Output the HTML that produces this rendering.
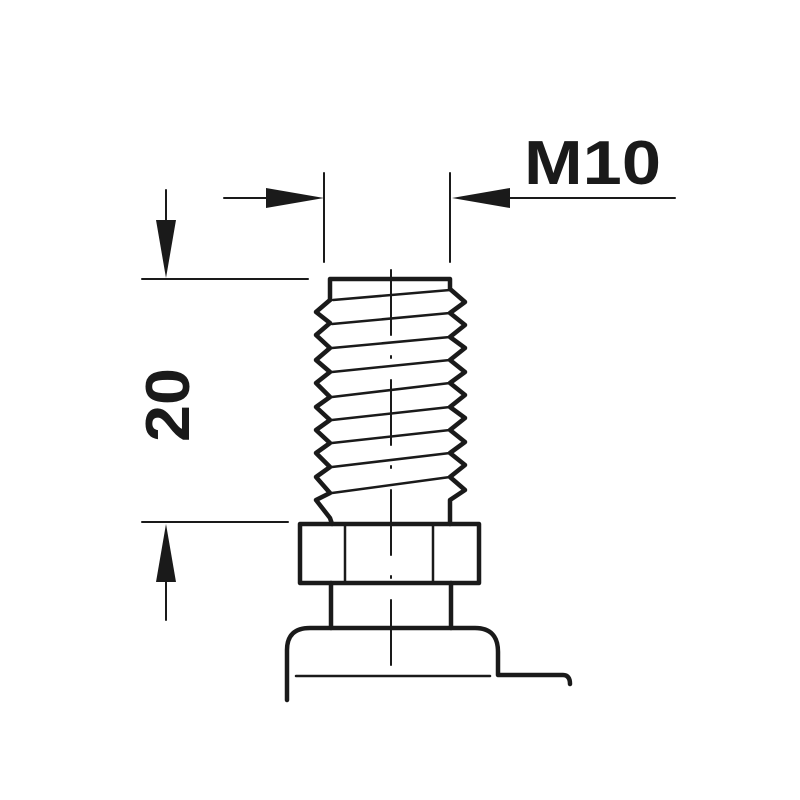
<!DOCTYPE html>
<html><head><style>body{margin:0;background:#fff}svg{display:block}</style></head><body>
<svg width="800" height="800" viewBox="0 0 800 800" xmlns="http://www.w3.org/2000/svg">
<g stroke="#1a1a1a" fill="none" stroke-linecap="round" stroke-linejoin="round">
<line x1="324" y1="173" x2="324" y2="262" stroke-width="2"/>
<line x1="450" y1="173" x2="450" y2="262" stroke-width="2"/>
<line x1="224" y1="198" x2="300" y2="198" stroke-width="2"/>
<line x1="480" y1="198" x2="675" y2="198" stroke-width="2"/>
<line x1="142" y1="279" x2="308" y2="279" stroke-width="2"/>
<line x1="142" y1="522" x2="288" y2="522" stroke-width="2"/>
<line x1="166" y1="190" x2="166" y2="250" stroke-width="2"/>
<line x1="166" y1="555" x2="166" y2="620" stroke-width="2"/>
<line x1="391" y1="270" x2="391" y2="335" stroke-width="2"/>
<line x1="391" y1="356" x2="391" y2="358" stroke-width="2"/>
<line x1="391" y1="380" x2="391" y2="445" stroke-width="2"/>
<line x1="391" y1="466" x2="391" y2="468" stroke-width="2"/>
<line x1="391" y1="490" x2="391" y2="555" stroke-width="2"/>
<line x1="391" y1="576" x2="391" y2="578" stroke-width="2"/>
<line x1="391" y1="600" x2="391" y2="665" stroke-width="2"/>
<path d="M330 300 L330 279 L450 279 L450 289 L465 302 L450 313 L465 325 L450 337 L465 348 L450 360 L465 372 L450 383 L465 395 L450 407 L465 418 L450 430 L465 442 L450 453 L465 465 L450 477 L465 490 L450 500 L450 524" stroke-width="4.5"/>
<path d="M330 300 L316 312 L330 323 L316 335 L330 348 L316 360 L330 372 L316 383 L330 397 L316 407 L330 420 L316 430 L330 443 L316 453 L330 467 L316 477 L330 493 L316 500 L330 518 L332 524" stroke-width="4.5"/>
<g stroke-width="2.5">
<line x1="333" y1="300" x2="450" y2="290"/>
<line x1="332" y1="324" x2="450" y2="313"/>
<line x1="332" y1="348" x2="450" y2="337"/>
<line x1="332" y1="372" x2="450" y2="360"/>
<line x1="332" y1="397" x2="450" y2="383"/>
<line x1="332" y1="420" x2="450" y2="407"/>
<line x1="332" y1="443" x2="450" y2="430"/>
<line x1="332" y1="467" x2="450" y2="453"/>
<line x1="332" y1="493" x2="450" y2="477"/>
</g>
<rect x="300" y="524" width="179" height="59" stroke-width="4.5"/>
<line x1="345" y1="524" x2="345" y2="583" stroke-width="2.5"/>
<line x1="433" y1="524" x2="433" y2="583" stroke-width="2.5"/>
<line x1="331" y1="583" x2="331" y2="628" stroke-width="4.5"/>
<line x1="451" y1="583" x2="451" y2="628" stroke-width="4.5"/>
<path d="M287 700 L287 650 Q287 628 310 628 L475 628 Q498 628 498 652 L498 675 L563 675 Q570 675 570 684" stroke-width="4.5"/>
<line x1="296" y1="676" x2="490" y2="676" stroke-width="2.5"/>
</g>
<g fill="#1a1a1a">
<polygon points="324,198 266,188 266,208"/>
<polygon points="452,198 510,188 510,208"/>
<polygon points="166,278 156,220 176,220"/>
<polygon points="166,524 156,582 176,582"/>
</g>
<text x="524" y="184" textLength="137" lengthAdjust="spacingAndGlyphs" font-family="Liberation Sans, sans-serif" font-weight="bold" font-size="62" fill="#1a1a1a">M10</text>
<text transform="translate(189,405) rotate(-90)" text-anchor="middle" textLength="74" lengthAdjust="spacingAndGlyphs" font-family="Liberation Sans, sans-serif" font-weight="bold" font-size="62" fill="#1a1a1a">20</text>
</svg>
</body></html>
